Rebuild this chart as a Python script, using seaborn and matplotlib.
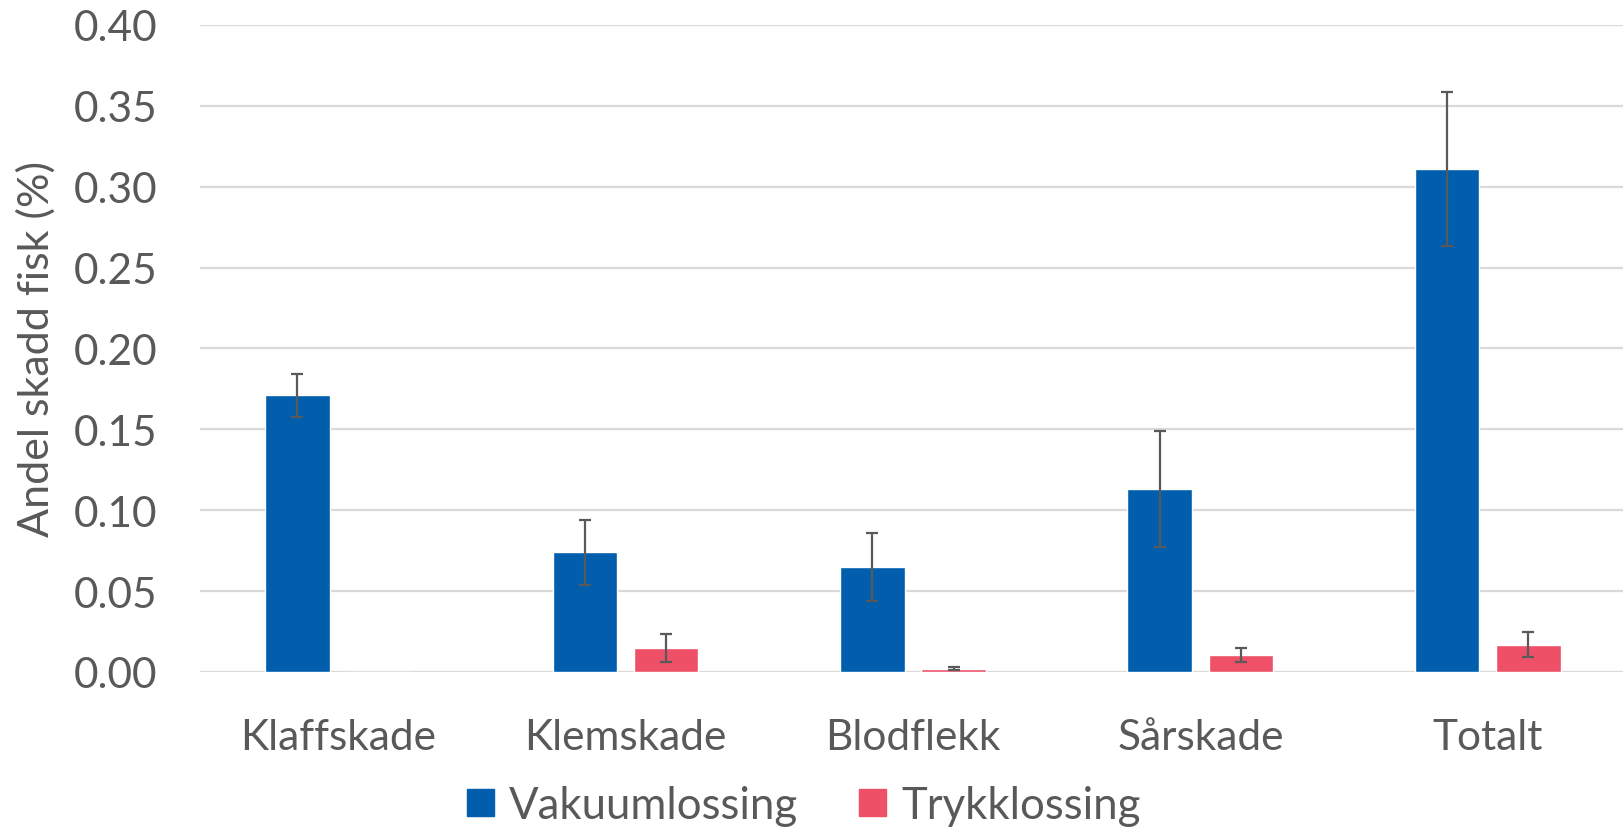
import pandas as pd
import numpy as np
import matplotlib.pyplot as plt
import seaborn as sns

# Values
categories = ['Klaffskade', 'Klemskade', 'Blodflekk', 'Sårskade', 'Totalt']
vakuum = [0.171, 0.074, 0.065, 0.113, 0.311]
vakuum_err = [0.0135, 0.020, 0.021, 0.036, 0.0475]
trykk = [0.0, 0.0148, 0.002, 0.0105, 0.017]
trykk_err = [0.0, 0.0087, 0.001, 0.0045, 0.0076]
series = ['Vakuumlossing', 'Trykklossing']
colors = ['#005eac', '#ee5068']
grey = '#595959'

df = pd.DataFrame({
    'kategori': categories * 2,
    'andel': vakuum + trykk,
    'feil': vakuum_err + trykk_err,
    'metode': [series[0]] * len(categories) + [series[1]] * len(categories),
})

sns.set_style('white')
plt.rcParams['font.family'] = ['Lato', 'DejaVu Sans']

fig = plt.figure(figsize=(16.23, 8.28), dpi=100)
ax = fig.add_axes([0.1235, 0.1872, 0.878, 0.7814])

sns.barplot(data=df, x='kategori', y='andel', hue='metode',
            palette=colors, width=0.565, gap=0.205, errorbar=None,
            saturation=1, ax=ax, zorder=2)

# error bars at the centre of each bar
for cont, err in zip(ax.containers, [vakuum_err, trykk_err]):
    xs = [p.get_x() + p.get_width() / 2 for p in cont.patches]
    ys = [p.get_height() for p in cont.patches]
    for x, y, e in zip(xs, ys, err):
        if e > 0:
            ax.errorbar(x, y, yerr=e, fmt='none', ecolor=grey,
                        elinewidth=1.6, capsize=4.5, capthick=1.6, zorder=3)

ax.set_ylim(0, 0.40)
ax.set_yticks(np.arange(0, 0.401, 0.05))
ax.set_yticklabels([f'{v:.2f}' for v in np.arange(0, 0.401, 0.05)])
ax.yaxis.grid(True, color='#d9d9d9', linewidth=1.6, zorder=0)
ax.set_axisbelow(True)
for s in ax.spines.values():
    s.set_visible(False)
ax.axhline(0, color='#d9d9d9', linewidth=2, zorder=1)

ax.tick_params(axis='both', length=0, labelsize=30.5, colors=grey)
ax.tick_params(axis='x', pad=33)
ax.tick_params(axis='y', pad=31)
ax.set_xlabel('')
ax.set_ylabel('')
fig.text(0.0225, 0.578, 'Andel skadd fisk (%)', rotation=90, ha='center',
         va='center', fontsize=31, color=grey)

ax.legend_.remove()
handles = [plt.Rectangle((0, 0), 1, 1, color=c) for c in colors]
fig.legend(handles, series, loc='center', bbox_to_anchor=(0.4953, 0.026),
           ncol=2, frameon=False, fontsize=31.5, labelcolor=grey,
           handlelength=0.6, handleheight=0.6, handletextpad=0.35,
           columnspacing=1.4)

plt.savefig('out.png', dpi=100)
